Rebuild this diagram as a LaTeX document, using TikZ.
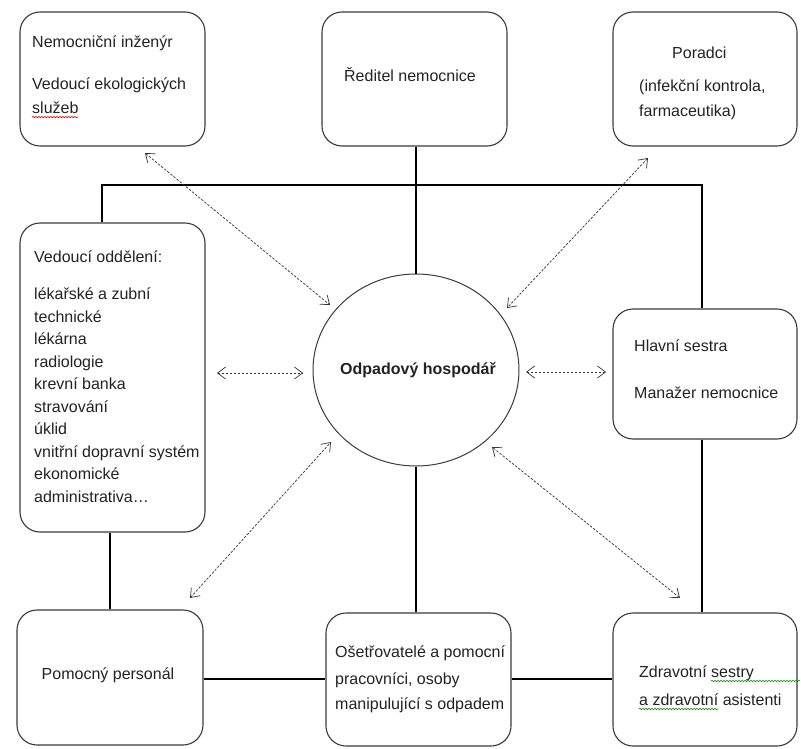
\documentclass[tikz,border=0pt]{standalone}
\usepackage{fontspec}
\setmainfont{Liberation Sans}
\usetikzlibrary{arrows.meta,decorations.pathmorphing,shapes.geometric}
\definecolor{txt}{HTML}{222222}
\definecolor{frame}{HTML}{3A3A3A}
\begin{document}
\begin{tikzpicture}[x=1pt,y=-1pt,
  box/.style={draw=frame,line width=1.1pt,rounded corners=20pt,minimum width=#1,inner sep=0pt},
  lbl/.style={text=txt,inner sep=0pt,anchor=west,font=\fontsize{16}{19}\selectfont},
  clbl/.style={text=txt,inner sep=0pt,font=\fontsize{16}{19}\selectfont},
  link/.style={line width=2pt,black},
  rel/.style={dash pattern=on 2.5pt off 1.5pt,line width=0.7pt,black!80,{Straight Barb[length=8pt,width=12pt]}-{Straight Barb[length=8pt,width=12pt]}},
  redsq/.style={red!85!black,line width=0.6pt,decorate,decoration={snake,segment length=3pt,amplitude=0.7pt}},
  greensq/.style={green!55!black,line width=0.6pt,decorate,decoration={snake,segment length=3pt,amplitude=0.7pt}}
]
\useasboundingbox (0,0) rectangle (801,749);
% boxes
\node[box=185pt,minimum height=134pt] (tl) at (112.5,79) {};
\node[box=185pt,minimum height=134pt] (tm) at (414.5,79) {};
\node[box=184pt,minimum height=134pt] (tr) at (705,79) {};
\node[box=185pt,minimum height=309pt] (ml) at (112.5,377.5) {};
\node[draw=frame,line width=1pt,ellipse,minimum width=206pt,minimum height=192pt,inner sep=0pt] (wm) at (416,370) {};
\node[box=184pt,minimum height=130pt] (mr) at (705,374) {};
\node[box=186pt,minimum height=135pt] (bl) at (110,677.5) {};
\node[box=185pt,minimum height=133pt] (bm) at (418.5,679.5) {};
\node[box=184pt,minimum height=133pt] (br) at (705,679.5) {};
% texts
\node[lbl] (t1) at (32,43) {Nemocniční inženýr};
\node[lbl] (t2) at (32,85) {Vedoucí ekologických};
\node[lbl] (t3) at (32,108) {služeb};
\node[clbl] (t4) at (410,75) {Ředitel nemocnice};
\node[lbl] (t5) at (672,53) {Poradci};
\node[lbl] (t6) at (639,87) {(infekční kontrola,};
\node[lbl] (t7) at (639,112) {farmaceutika)};
\node[lbl] (t8) at (34,257) {Vedoucí oddělení:};
\node[lbl,align=left,anchor=north west,font=\fontsize{16}{22.5}\selectfont] (t9) at (34,288) {lékařské a zubní\\technické\\lékárna\\radiologie\\krevní banka\\stravování\\úklid\\vnitřní dopravní systém\\ekonomické\\administrativa…};
\node[clbl,font=\bfseries\fontsize{16}{19}\selectfont] (t10) at (418,370) {Odpadový hospodář};
\node[lbl] (t11) at (634,346) {Hlavní sestra};
\node[lbl] (t12) at (634,393) {Manažer nemocnice};
\node[clbl] (t13) at (108,675) {Pomocný personál};
\node[lbl] (t14) at (335,653) {Ošetřovatelé a pomocní};
\node[lbl] (t15) at (335,680) {pracovníci, osoby};
\node[lbl] (t16) at (335,705) {manipulující s odpadem};
\node[lbl] (t17) at (639,673) {Zdravotní sestry};
\node[lbl] (t18) at (639,700) {a zdravotní asistenti};
% spell-check squiggles
\draw[redsq] ([yshift=-3pt]t3.south west) -- ([yshift=-3pt]t3.south east);
\coordinate (sq1a) at (711,681);
\coordinate (sq1b) at (800,681);
\draw[greensq] (sq1a) -- (sq1b);
\coordinate (sq2a) at (639,709);
\coordinate (sq2b) at (718,709);
\draw[greensq] (sq2a) -- (sq2b);
% solid connectors
\coordinate (busL) at (102,185);
\coordinate (busR) at (702,185);
\coordinate (hbot) at (0,679);
\draw[link] (busL |- ml.north) -- (busL) -- (busR) -- (busR |- mr.north);
\draw[link] (tm.south -| wm.north) -- (wm.north);
\draw[link] (busR |- mr.south) -- (busR |- br.north);
\draw[link] (bl.north |- ml.south) -- (bl.north);
\draw[link] (wm.south) -- (wm.south |- bm.north);
\draw[link] (bl.east |- hbot) -- (bm.west |- hbot);
\draw[link] (bm.east |- hbot) -- (br.west |- hbot);
% dashed relations
\coordinate (a1) at (145,153); \coordinate (b1) at (330,305);
\coordinate (a2) at (648,158); \coordinate (b2) at (507,308);
\coordinate (a3) at (217,373); \coordinate (b3) at (303,373);
\coordinate (a4) at (606,372); \coordinate (b4) at (526,372);
\coordinate (a5) at (190,598); \coordinate (b5) at (331,442);
\coordinate (a6) at (680,598); \coordinate (b6) at (492,447);
\draw[rel] (a1) -- (b1);
\draw[rel] (a2) -- (b2);
\draw[rel] (a3) -- (b3);
\draw[rel] (a4) -- (b4);
\draw[rel] (a5) -- (b5);
\draw[rel] (a6) -- (b6);
\end{tikzpicture}
\end{document}
